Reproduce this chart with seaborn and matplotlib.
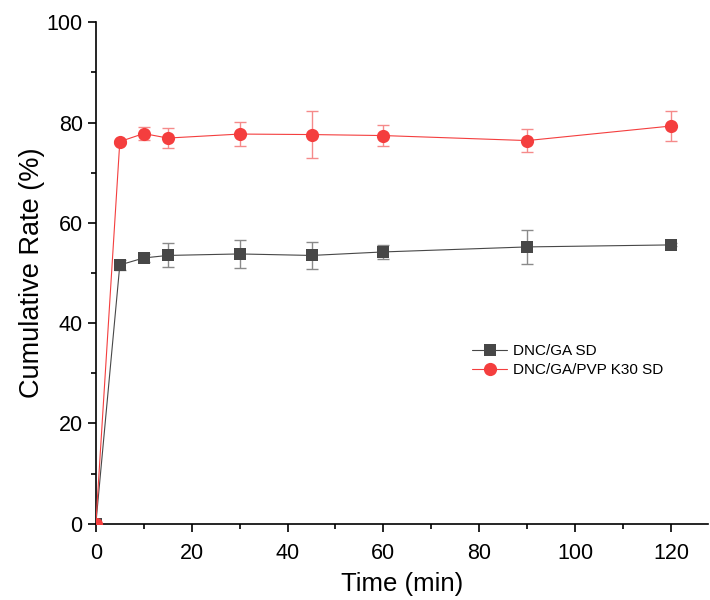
import numpy as np
import pandas as pd
import matplotlib
matplotlib.use('Agg')
import matplotlib.pyplot as plt
from matplotlib.ticker import MultipleLocator
import seaborn as sns

# data
time = [0, 5, 10, 15, 30, 45, 60, 90, 120]
ga_sd = [0, 51.6, 53.0, 53.5, 53.8, 53.5, 54.2, 55.2, 55.6]
ga_sd_err = [0, 1.0, 0.8, 2.4, 2.85, 2.75, 1.4, 3.35, 0.3]
pvp_sd = [0, 76.2, 77.8, 76.9, 77.7, 77.6, 77.4, 76.4, 79.3]
pvp_sd_err = [0, 0.4, 1.3, 2.0, 2.4, 4.7, 2.1, 2.3, 2.9]
labels = ['DNC/GA SD', 'DNC/GA/PVP K30 SD']

sns.set_style('ticks', {'axes.edgecolor': 'black', 'xtick.color': 'black',
                        'ytick.color': 'black', 'text.color': 'black',
                        'axes.labelcolor': 'black'})
plt.rcParams['font.family'] = ['Liberation Sans', 'DejaVu Sans']

fig = plt.figure(figsize=(7.1, 6), dpi=100)
ax = fig.add_axes([0.135, 0.127, 0.862, 0.836])

dark = '#474747'
red = '#f43e3e'

df = pd.DataFrame({'time': time, 'ga': ga_sd, 'pvp': pvp_sd})

ax.errorbar(time, ga_sd, yerr=ga_sd_err, fmt='none', ecolor='#8a8a8a',
            elinewidth=1, capsize=4, capthick=1, zorder=2)
ax.errorbar(time, pvp_sd, yerr=pvp_sd_err, fmt='none', ecolor='#f58a8a',
            elinewidth=1, capsize=4, capthick=1, zorder=2)

sns.lineplot(data=df, x='time', y='ga', ax=ax, color=dark, marker='s',
             markersize=8.5, markeredgewidth=0, linewidth=0.8, label=labels[0],
             zorder=3)
sns.lineplot(data=df, x='time', y='pvp', ax=ax, color=red, marker='o',
             markersize=9.5, markeredgewidth=0, linewidth=0.8, label=labels[1],
             zorder=4)

ax.set_xlim(0, 127.7)
ax.set_ylim(0, 100)
ax.xaxis.set_major_locator(MultipleLocator(20))
ax.xaxis.set_minor_locator(MultipleLocator(10))
ax.yaxis.set_major_locator(MultipleLocator(20))
ax.yaxis.set_minor_locator(MultipleLocator(10))
ax.tick_params(which='major', length=6, width=1.2, labelsize=15.5, direction='out')
ax.tick_params(which='minor', length=3.5, width=1.2, direction='out')
ax.tick_params(axis='x', which='major', pad=7.5)
for s in ['left', 'bottom']:
    ax.spines[s].set_linewidth(1.2)
sns.despine(ax=ax)

ax.set_xlabel('Time (min)', fontsize=18.5, labelpad=6)
ax.set_ylabel('Cumulative Rate (%)', fontsize=19.5, labelpad=1)

ax.legend(loc='upper left', bbox_to_anchor=(0.605, 0.37), frameon=False,
          fontsize=11, handlelength=2.3, handletextpad=0.4, labelspacing=0.3,
          borderaxespad=0)

fig.savefig('out.png', dpi=100)
